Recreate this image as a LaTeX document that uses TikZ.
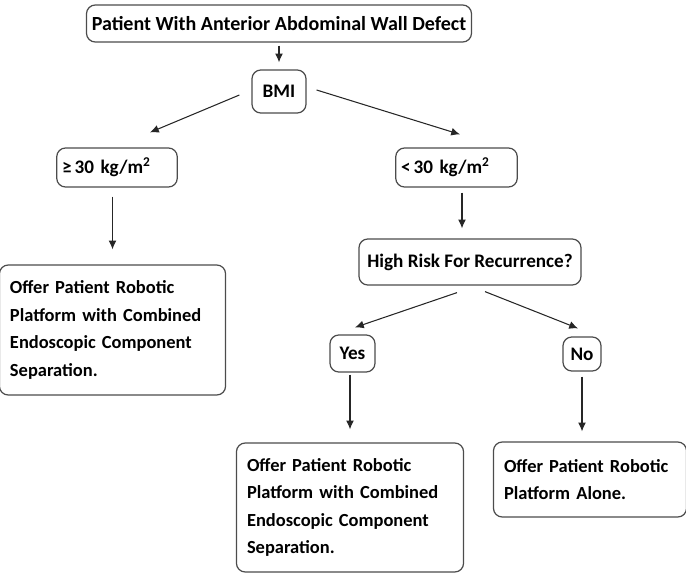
\documentclass[tikz,border=0pt]{standalone}
\usepackage{fontspec}
\setmainfont{Carlito}
\usetikzlibrary{calc,arrows.meta}
\tikzset{
	box/.style={draw=black!70, line width=0.7pt, rounded corners=5pt, font=\bfseries\fontsize{10.9}{12}\selectfont, inner sep=3pt},
	textbox/.style={box, align=left, font=\bfseries\fontsize{10.5}{15.6}\selectfont, inner sep=6pt},
	arr/.style={draw=black!85, line width=0.6pt, -{Latex[length=5pt,width=4.5pt]}}
}

\begin{document}
\begin{tikzpicture}
			%%%%% START %%%%%
			
			\useasboundingbox (0, 0) rectangle (13.72, -11.52);
			
			\node[box, minimum width=7.56cm, minimum height=0.74cm, font=\bfseries\fontsize{11.4}{12}\selectfont] (patient) at (5.58, -0.47) {Patient With Anterior Abdominal Wall Defect};
			\node[box, minimum width=1.08cm, minimum height=0.86cm] (bmi) at (5.58, -1.83) {BMI};
			
			\node[box, minimum height=0.78cm, text width=2.2cm, align=left] (high) at (2.34, -3.35) {≥\,30 kg/m\textsuperscript{2}};
			\node[box, minimum height=0.78cm, text width=2.22cm, align=left] (low) at (9.13, -3.35) {<\,30 kg/m\textsuperscript{2}};
			
			\node[textbox, text width=4.1cm, minimum height=2.6cm] (offerleft) at (2.25, -6.6) {Offer Patient Robotic\\Platform with Combined\\Endoscopic Component\\Separation.};
			
			\node[box, minimum width=4.44cm, minimum height=0.92cm] (risk) at (9.4, -5.24) {High Risk For Recurrence?};
			\node[box, minimum width=0.9cm, minimum height=0.74cm] (yes) at (7.05, -7.07) {Yes};
			\node[box, minimum width=0.76cm, minimum height=0.68cm] (no) at (11.64, -7.08) {No};
			
			\node[textbox, text width=4.12cm, minimum height=2.58cm] (offermid) at (7.0, -10.15) {Offer Patient Robotic\\Platform with Combined\\Endoscopic Component\\Separation.};
			\node[textbox, text width=3.44cm, minimum height=1.5cm] (offerright) at (11.8, -9.59) {Offer Patient Robotic\\Platform Alone.};
			
			\draw[arr] ([yshift=-0.06cm]patient.south) -- ([yshift=0.14cm]bmi.north);
			\draw[arr] ([shift={(-0.24,-0.07)}]bmi.west) -- ([shift={(0.66,0.3)}]high.north);
			\draw[arr] ([shift={(0.2,0.03)}]bmi.east) -- ([shift={(0.07,0.26)}]low.north);
			
			\draw[arr] ([yshift=-0.18cm]offerleft.north |- high.south) -- ([yshift=0.3cm]offerleft.north);
			\draw[arr] ([shift={(0.11,-0.1)}]low.south) -- ([shift={(0.11,0.2)}]low.south |- risk.north);
			
			\draw[arr] ([shift={(-0.26,-0.14)}]risk.south) -- ([shift={(0.05,0.14)}]yes.north);
			\draw[arr] ([shift={(0.3,-0.12)}]risk.south) -- ([shift={(-0.08,0.16)}]no.north);
			
			\draw[arr] ([yshift=-0.04cm]offermid.north |- yes.south) -- ([yshift=0.26cm]offermid.north);
			\draw[arr] ([yshift=-0.1cm]no.south) -- ([yshift=0.2cm]no.south |- offerright.north);
			
			%%%%% END %%%%%
		\end{tikzpicture}
\end{document}
